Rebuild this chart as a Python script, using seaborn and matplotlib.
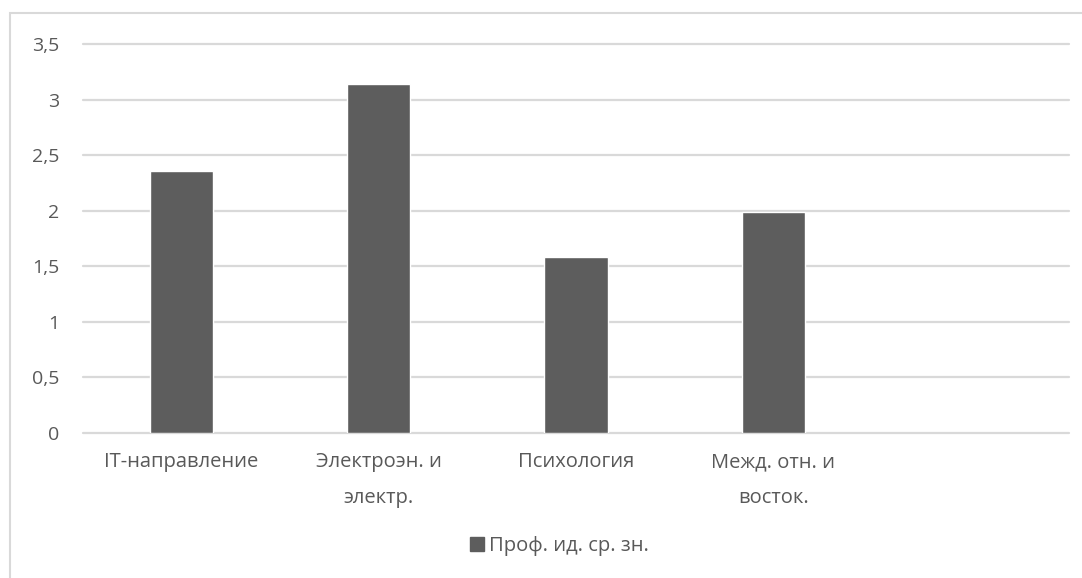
import pandas as pd
import seaborn as sns
import matplotlib.pyplot as plt
from matplotlib.patches import Rectangle

# Данные с диаграммы
categories = ['IT-направление', 'Электроэн. и\nэлектр.', 'Психология', 'Межд. отн. и\nвосток.']
values = [2.36, 3.14, 1.58, 1.99]
series_name = 'Проф. ид. ср. зн.'
yticks = [0, 0.5, 1, 1.5, 2, 2.5, 3, 3.5]
ytick_labels = ['0', '0,5', '1', '1,5', '2', '2,5', '3', '3,5']

df = pd.DataFrame({'Направление': categories, 'Значение': values})

sns.set_style('white')
plt.rcParams['font.family'] = ['Open Sans', 'DejaVu Sans']

bar_color = '#5d5d5d'
text_color = '#595959'
grid_color = '#d9d9d9'

fig = plt.figure(figsize=(10.82, 5.78), dpi=100)
ax = fig.add_axes([0.0767, 0.2512, 0.9113, 0.6722])

sns.barplot(data=df, x='Направление', y='Значение', color=bar_color,
            width=0.32, saturation=1, ax=ax, label=series_name, legend=False)

ax.set_xlim(-0.5, 4.5)
ax.set_ylim(0, 3.5)
ax.set_yticks(yticks)
ax.set_yticklabels(ytick_labels)
ax.set_xlabel('')
ax.set_ylabel('')
for y in yticks:
    ax.axhline(y, color=grid_color, lw=1.6, zorder=0, clip_on=False)
for s in ax.spines.values():
    s.set_visible(False)
ax.tick_params(axis='both', length=0, labelcolor=text_color)
ax.tick_params(axis='y', pad=17, labelsize=14)
ax.tick_params(axis='x', pad=14, labelsize=14.5)
for lbl in ax.get_xticklabels():
    lbl.set_linespacing(2.05)
    lbl.set_verticalalignment('top')

# Легенда
handles = [Rectangle((0, 0), 1, 1, color=bar_color)]
fig.legend(handles, [series_name], loc='center', bbox_to_anchor=(0.517, 0.055),
           frameon=False, fontsize=14.5, labelcolor=text_color,
           handlelength=0.7, handleheight=0.7, handletextpad=0.2)

# Рамка области диаграммы
fig.patches.append(Rectangle((10 / 1082, -0.1), 1.2, 1 - 13 / 578 + 0.1,
                             transform=fig.transFigure, fill=False,
                             edgecolor=grid_color, lw=1.5))

fig.savefig('out.png', dpi=100)
